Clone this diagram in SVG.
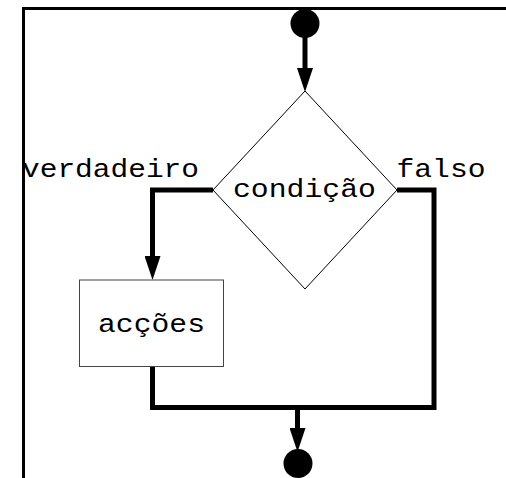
<svg xmlns="http://www.w3.org/2000/svg" width="506" height="478" viewBox="0 0 506 478">
<style>
.frame{fill:none;stroke:#000;stroke-width:3}
.conn{fill:none;stroke:#000;stroke-width:5;stroke-linejoin:miter}
.shape{fill:#fff;stroke:#000;stroke-width:1}
.box{fill:#fff;stroke:#444;stroke-width:1}
.dot{fill:#000}
.lbl{font-family:"Liberation Mono","Courier New",monospace;font-size:26px;fill:#000}
</style>
<defs>
<marker id="arr" markerUnits="userSpaceOnUse" viewBox="0 0 24 16" refX="0" refY="8" markerWidth="24" markerHeight="16" orient="auto">
<path d="M0,0 L24,8 L0,16 Z" fill="#000"/>
</marker>
</defs>
<rect width="506" height="478" fill="#fff"/>
<g id="frame">
<path class="frame" d="M23.5,478 V8.5 H506"/>
</g>
<g id="connectors">
<path class="conn" d="M305,36 V68" marker-end="url(#arr)"/>
<path class="conn" d="M213,190 H152.5 V256" marker-end="url(#arr)"/>
<path class="conn" d="M397,190 H434 V407.5 H152.5 V366"/>
<path class="conn" d="M297.5,407.5 V428" marker-end="url(#arr)"/>
</g>
<g id="start">
<circle class="dot" cx="305" cy="23.5" r="14.5"/>
</g>
<g id="condition">
<polygon class="shape" points="305,91 397,190 305,289 213,190"/>
<text class="lbl" x="233" y="197" textLength="143" lengthAdjust="spacingAndGlyphs">condição</text>
</g>
<g id="label-true">
<text class="lbl" x="22" y="177" textLength="177" lengthAdjust="spacingAndGlyphs">verdadeiro</text>
</g>
<g id="label-false">
<text class="lbl" x="396.5" y="177" textLength="89" lengthAdjust="spacingAndGlyphs">falso</text>
</g>
<g id="actions">
<rect class="box" x="79.5" y="280" width="144" height="86.5"/>
<text class="lbl" x="98" y="332" textLength="107" lengthAdjust="spacingAndGlyphs">acções</text>
</g>
<g id="end">
<circle class="dot" cx="298" cy="463.5" r="14.5"/>
</g>
</svg>
